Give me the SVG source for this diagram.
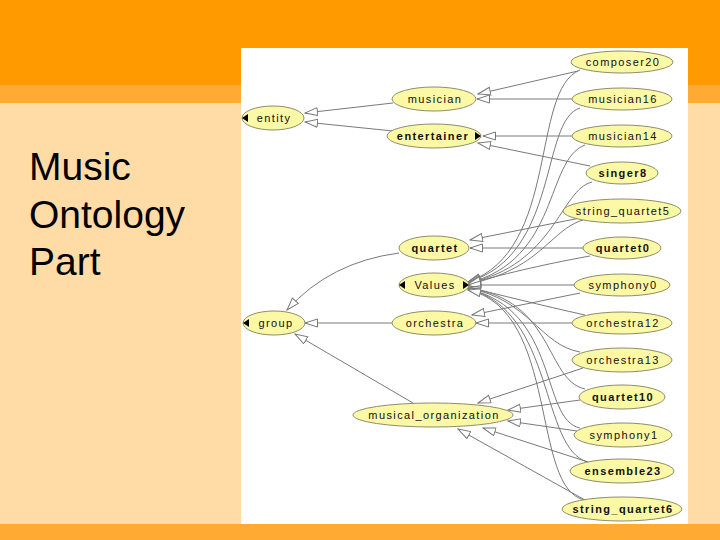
<svg xmlns="http://www.w3.org/2000/svg" width="720" height="540" viewBox="0 0 720 540">
<defs>
<style>
.n ellipse{fill:#FBF8A6;stroke:#8E8E6A;stroke-width:1}
.n text{font-family:"Liberation Sans","DejaVu Sans",sans-serif;font-size:11px;letter-spacing:1.4px;text-anchor:middle;fill:#111}
.b text{font-weight:bold}
.e path{fill:none;stroke:#7A7A7A;stroke-width:1;marker-end:url(#ah)}
.k{fill:#000}
.title{font-family:"Liberation Sans",Arial,sans-serif;font-size:39px;fill:#000}
</style>
<marker id="ah" markerUnits="userSpaceOnUse" markerWidth="14" markerHeight="10" refX="13" refY="4.5" orient="auto">
<path d="M0.5,0.5 L13,4.5 L0.5,8.5 z" fill="#fff" stroke="#777" stroke-width="1"/>
</marker>
</defs>
<rect x="0" y="0" width="720" height="540" fill="#FFDBA6"/>
<rect x="0" y="0" width="720" height="85" fill="#FF9A00"/>
<rect x="0" y="85" width="720" height="18" fill="#FFAA33"/>
<rect x="0" y="524" width="720" height="16" fill="#FFAA33"/>
<rect x="241" y="48" width="447" height="476" fill="#FFFFFF"/>
<text class="title" x="29" y="180">Music</text>
<text class="title" x="29" y="228">Ontology</text>
<text class="title" x="29" y="275">Part</text>
<g id="connectors" class="e">
<path d="M393,103 L305,113"/>
<path d="M393,131 L305,122"/>
<path d="M578,71 L478,94"/>
<path d="M572,99 L477,99"/>
<path d="M576,136 L483,136"/>
<path d="M590,166 L478,143"/>
<path d="M580,218 L470,240"/>
<path d="M583,248 L470,248"/>
<path d="M399,253 Q330,262 287,310"/>
<path d="M392,323 L305,323"/>
<path d="M413,403 L295,334"/>
<path d="M580,293 L472,315"/>
<path d="M572,323 L476,323"/>
<path d="M583,368 L478,403"/>
<path d="M580,400 L508,410"/>
<path d="M577,431 L508,421"/>
<path d="M588,462 L483,428"/>
<path d="M585,500 L458,429"/>
<path d="M580,70 C530,90 560,250 468,282"/>
<path d="M580,108 C540,120 560,255 468,282"/>
<path d="M585,145 C545,160 560,260 468,283"/>
<path d="M592,182 C560,190 555,265 468,283"/>
<path d="M583,220 C550,230 540,270 468,284"/>
<path d="M590,256 C540,265 500,275 468,284"/>
<path d="M574,285 L468,285"/>
<path d="M585,315 C540,305 500,295 468,287"/>
<path d="M580,352 C540,345 530,300 468,288"/>
<path d="M585,389 C545,380 555,300 468,288"/>
<path d="M580,428 C540,420 560,310 468,289"/>
<path d="M588,462 C540,450 555,310 468,289"/>
<path d="M585,500 C530,490 560,310 468,290"/>
</g>
<g id="entity" class="n"><ellipse cx="273" cy="118" rx="31" ry="12"/><text x="274" y="122">entity</text><polygon class="k" points="242,118 248,114 248,122"/></g>
<g id="musician" class="n"><ellipse cx="434" cy="99" rx="42" ry="12"/><text x="435" y="103">musician</text></g>
<g id="entertainer" class="n b"><ellipse cx="434" cy="136" rx="47" ry="12"/><text x="433" y="140">entertainer</text><polygon class="k" points="481,136 475,132 475,140"/></g>
<g id="composer20" class="n"><ellipse cx="622" cy="62" rx="51" ry="11"/><text x="623" y="66">composer20</text></g>
<g id="musician16" class="n"><ellipse cx="622" cy="99" rx="50" ry="11"/><text x="623" y="103">musician16</text></g>
<g id="musician14" class="n"><ellipse cx="622" cy="136" rx="50" ry="11"/><text x="623" y="140">musician14</text></g>
<g id="singer8" class="n b"><ellipse cx="622" cy="173" rx="36" ry="11"/><text x="623" y="177">singer8</text></g>
<g id="string_quartet5" class="n"><ellipse cx="622" cy="211" rx="59" ry="12"/><text x="623" y="215">string_quartet5</text></g>
<g id="quartet" class="n b"><ellipse cx="434" cy="248" rx="35" ry="12"/><text x="435" y="252">quartet</text></g>
<g id="Values" class="n"><ellipse cx="434" cy="285" rx="35" ry="12"/><text x="435" y="289">Values</text><polygon class="k" points="399,285 405,281 405,289"/><polygon class="k" points="469,285 463,281 463,289"/></g>
<g id="group" class="n"><ellipse cx="274" cy="323" rx="31" ry="12"/><text x="276" y="327">group</text><polygon class="k" points="243,323 249,319 249,327"/></g>
<g id="orchestra" class="n"><ellipse cx="434" cy="323" rx="42" ry="12"/><text x="435" y="327">orchestra</text></g>
<g id="quartet0" class="n b"><ellipse cx="622" cy="248" rx="39" ry="11"/><text x="623" y="252">quartet0</text></g>
<g id="symphony0" class="n"><ellipse cx="622" cy="285" rx="48" ry="11"/><text x="623" y="289">symphony0</text></g>
<g id="orchestra12" class="n"><ellipse cx="622" cy="323" rx="50" ry="11"/><text x="623" y="327">orchestra12</text></g>
<g id="orchestra13" class="n"><ellipse cx="622" cy="360" rx="50" ry="12"/><text x="623" y="364">orchestra13</text></g>
<g id="quartet10" class="n b"><ellipse cx="622" cy="397" rx="43" ry="12"/><text x="623" y="401">quartet10</text></g>
<g id="musical_organization" class="n"><ellipse cx="433" cy="415" rx="80" ry="12"/><text x="434" y="419">musical_organization</text></g>
<g id="symphony1" class="n"><ellipse cx="623" cy="435" rx="49" ry="12"/><text x="624" y="439">symphony1</text></g>
<g id="ensemble23" class="n b"><ellipse cx="622" cy="471" rx="52" ry="12"/><text x="623" y="475">ensemble23</text></g>
<g id="string_quartet6" class="n b"><ellipse cx="622" cy="509" rx="60" ry="12"/><text x="623" y="513">string_quartet6</text></g>
</svg>
